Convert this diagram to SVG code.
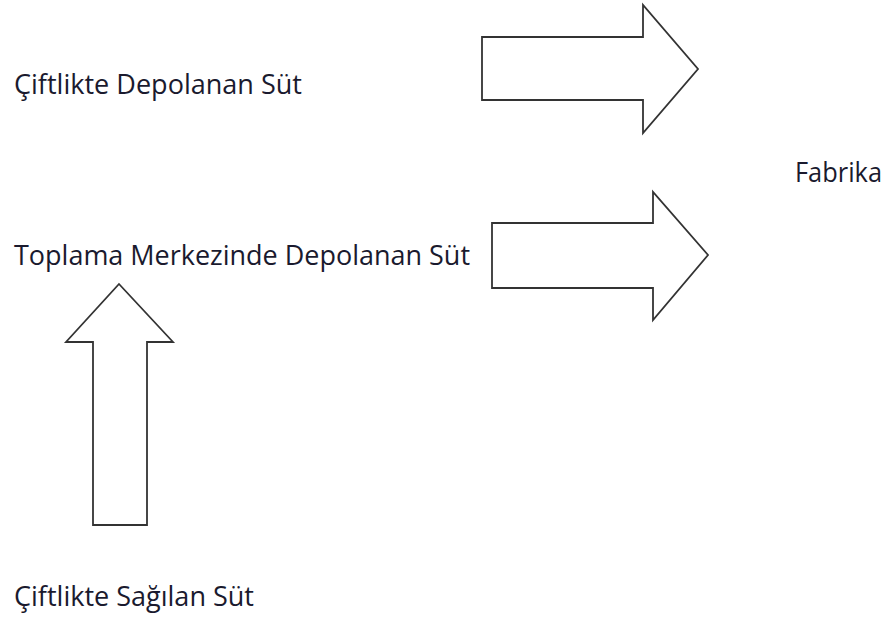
<svg xmlns="http://www.w3.org/2000/svg" width="891" height="621" viewBox="0 0 891 621">
<style>
.lbl{font-family:"Open Sans","Noto Sans","Liberation Sans",sans-serif;font-size:27px;fill:#1a1a2e}
.arr{fill:#fff;stroke:#333;stroke-width:1.8;stroke-linejoin:miter}
</style>
<rect width="891" height="621" fill="#fff"/>
<g id="n-ciftlik-depo"><text class="lbl" x="14" y="94" textLength="288" lengthAdjust="spacingAndGlyphs">Çiftlikte Depolanan Süt</text></g>
<g id="n-toplama"><text class="lbl" x="14" y="265" textLength="456" lengthAdjust="spacingAndGlyphs">Toplama Merkezinde Depolanan Süt</text></g>
<g id="n-ciftlik-sagilan"><text class="lbl" x="14" y="606" textLength="240" lengthAdjust="spacingAndGlyphs">Çiftlikte Sağılan Süt</text></g>
<g id="n-fabrika"><text class="lbl" x="795" y="182" textLength="87" lengthAdjust="spacingAndGlyphs">Fabrika</text></g>
<g id="connectors">
<polygon class="arr" points="482,37 643,37 643,5 698,69 643,133 643,100 482,100"/>
<polygon class="arr" points="492,223 653,223 653,192 708,255 653,320 653,288 492,288"/>
<polygon class="arr" points="119,284 173,342 147,342 147,525 93,525 93,342 66,342"/>
</g>
</svg>
